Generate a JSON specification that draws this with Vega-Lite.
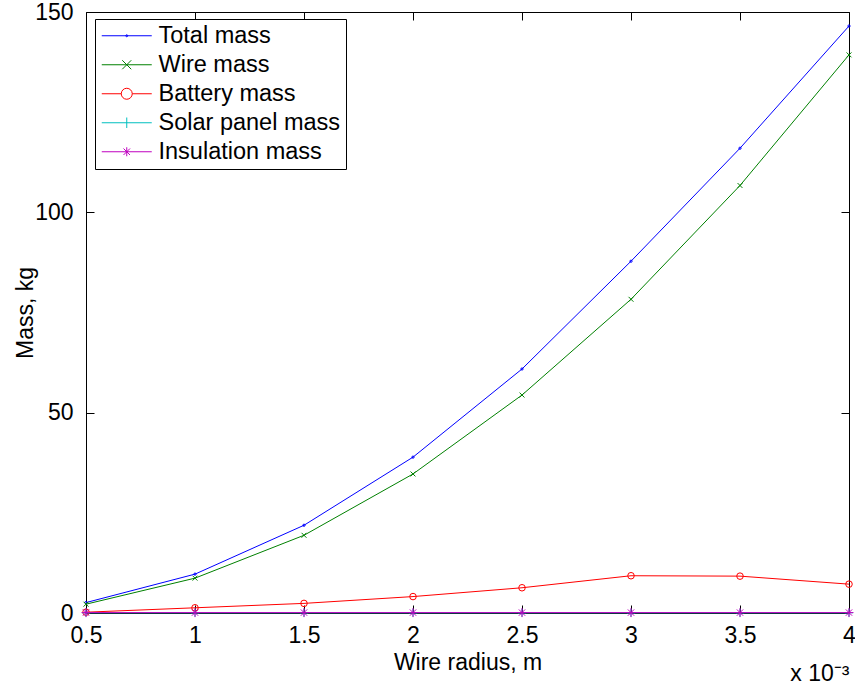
{
  "$schema": "https://vega.github.io/schema/vega-lite/v6.json",
  "width": 763,
  "height": 601,
  "autosize": "none",
  "padding": {"left": 86, "top": 12, "right": 6, "bottom": 73},
  "background": "white",
  "config": {
    "font": "Liberation Sans",
    "view": {"stroke": "black", "strokeWidth": 1},
    "axis": {"grid": false, "labelFont": "Liberation Sans", "titleFont": "Liberation Sans", "labelFontSize": 23, "titleFontSize": 23, "labelColor": "black", "titleColor": "black", "titleFontWeight": "normal", "tickColor": "black", "tickWidth": 1, "domain": false},
    "legend": {"orient": "none", "legendX": 9, "legendY": 7, "strokeColor": "black", "fillColor": "white", "padding": 5, "labelFontSize": 23.5, "labelFont": "Liberation Sans", "labelColor": "black", "labelLimit": 0, "symbolSize": 100, "symbolOffset": 15, "labelOffset": 20, "rowPadding": 4, "symbolStrokeWidth": 1}
  },
  "data": {
    "values": [
      {"r": 0.5, "series": "Total mass", "mass": 2.6},
      {"r": 1.0, "series": "Total mass", "mass": 9.7},
      {"r": 1.5, "series": "Total mass", "mass": 21.9},
      {"r": 2.0, "series": "Total mass", "mass": 38.9},
      {"r": 2.5, "series": "Total mass", "mass": 60.9},
      {"r": 3.0, "series": "Total mass", "mass": 87.8},
      {"r": 3.5, "series": "Total mass", "mass": 116.0},
      {"r": 4.0, "series": "Total mass", "mass": 146.5},
      {"r": 0.5, "series": "Wire mass", "mass": 2.2},
      {"r": 1.0, "series": "Wire mass", "mass": 8.7},
      {"r": 1.5, "series": "Wire mass", "mass": 19.4},
      {"r": 2.0, "series": "Wire mass", "mass": 34.7},
      {"r": 2.5, "series": "Wire mass", "mass": 54.4},
      {"r": 3.0, "series": "Wire mass", "mass": 78.3},
      {"r": 3.5, "series": "Wire mass", "mass": 106.7},
      {"r": 4.0, "series": "Wire mass", "mass": 139.3},
      {"r": 0.5, "series": "Battery mass", "mass": 0.2},
      {"r": 1.0, "series": "Battery mass", "mass": 1.3},
      {"r": 1.5, "series": "Battery mass", "mass": 2.4},
      {"r": 2.0, "series": "Battery mass", "mass": 4.1},
      {"r": 2.5, "series": "Battery mass", "mass": 6.3},
      {"r": 3.0, "series": "Battery mass", "mass": 9.3},
      {"r": 3.5, "series": "Battery mass", "mass": 9.2},
      {"r": 4.0, "series": "Battery mass", "mass": 7.2},
      {"r": 0.5, "series": "Solar panel mass", "mass": 0.05},
      {"r": 1.0, "series": "Solar panel mass", "mass": 0.05},
      {"r": 1.5, "series": "Solar panel mass", "mass": 0.05},
      {"r": 2.0, "series": "Solar panel mass", "mass": 0.05},
      {"r": 2.5, "series": "Solar panel mass", "mass": 0.05},
      {"r": 3.0, "series": "Solar panel mass", "mass": 0.05},
      {"r": 3.5, "series": "Solar panel mass", "mass": 0.05},
      {"r": 4.0, "series": "Solar panel mass", "mass": 0.05},
      {"r": 0.5, "series": "Insulation mass", "mass": 0.1},
      {"r": 1.0, "series": "Insulation mass", "mass": 0.1},
      {"r": 1.5, "series": "Insulation mass", "mass": 0.1},
      {"r": 2.0, "series": "Insulation mass", "mass": 0.1},
      {"r": 2.5, "series": "Insulation mass", "mass": 0.1},
      {"r": 3.0, "series": "Insulation mass", "mass": 0.1},
      {"r": 3.5, "series": "Insulation mass", "mass": 0.1},
      {"r": 4.0, "series": "Insulation mass", "mass": 0.1}
    ]
  },
  "layer": [
    {
      "mark": {"type": "line", "strokeWidth": 1, "clip": false},
      "encoding": {
        "x": {"field": "r", "type": "quantitative", "scale": {"domain": [0.5, 4], "nice": false, "zero": false}, "axis": {"orient": "bottom", "title": "Wire radius, m", "values": [0.5, 1, 1.5, 2, 2.5, 3, 3.5, 4], "format": "~g", "offset": -8, "tickSize": 8, "labelPadding": 11, "titlePadding": 4, "labelFlush": false, "labelOverlap": false}},
        "y": {"field": "mass", "type": "quantitative", "scale": {"domain": [0, 150], "nice": false}, "axis": {"orient": "left", "title": "Mass, kg", "values": [0, 50, 100, 150], "format": "d", "offset": -8, "tickSize": 8, "labelPadding": 13, "titleX": -57, "labelFlush": false, "labelOverlap": false}},
        "color": {
          "field": "series", "type": "nominal", "legend": null,
          "scale": {"domain": ["Total mass", "Wire mass", "Battery mass", "Solar panel mass", "Insulation mass"], "range": ["#0000FF", "#008000", "#FF0000", "#00BFBF", "#BF00BF"]}
        }
      }
    },
    {
      "mark": {"type": "point", "filled": false, "strokeWidth": 1, "opacity": 1, "clip": false},
      "encoding": {
        "x": {"field": "r", "type": "quantitative", "axis": null},
        "y": {"field": "mass", "type": "quantitative", "axis": null},
        "color": {"field": "series", "type": "nominal", "legend": null, "scale": {"domain": ["Total mass", "Wire mass", "Battery mass", "Solar panel mass", "Insulation mass"], "range": ["#0000FF", "#008000", "#FF0000", "#00BFBF", "#BF00BF"]}},
        "shape": {"field": "series", "type": "nominal", "legend": null, "scale": {"domain": ["Total mass", "Wire mass", "Battery mass", "Solar panel mass", "Insulation mass"], "range": ["circle", "M-1,-1L1,1M-1,1L1,-1", "circle", "M0,-1V1M-1,0H1", "M0,-1V1M-1,0H1M-0.7,-0.7L0.7,0.7M-0.7,0.7L0.7,-0.7"]}},
        "size": {"field": "series", "type": "nominal", "legend": null, "scale": {"domain": ["Total mass", "Wire mass", "Battery mass", "Solar panel mass", "Insulation mass"], "range": [5, 81, 130, 110, 81]}}
      }
    },
    {
      "transform": [{"filter": "false"}],
      "mark": {"type": "point", "filled": false, "strokeWidth": 1, "opacity": 1},
      "encoding": {
        "x": {"field": "r", "type": "quantitative", "axis": {"orient": "bottom", "title": "x 10⁻³", "labels": false, "ticks": false, "domain": false, "titleX": 763, "titleY": 67, "titleAlign": "right", "titleBaseline": "alphabetic", "titleAnchor": "end"}},
        "y": {"field": "mass", "type": "quantitative", "axis": null},
        "color": {"field": "series", "type": "nominal", "legend": {"title": null}, "scale": {"domain": ["Total mass", "Wire mass", "Battery mass", "Solar panel mass", "Insulation mass"], "range": ["#0000FF", "#008000", "#FF0000", "#00BFBF", "#BF00BF"]}},
        "shape": {"field": "series", "type": "nominal", "legend": {"title": null}, "scale": {"domain": ["Total mass", "Wire mass", "Battery mass", "Solar panel mass", "Insulation mass"], "range": ["M-5,0H5M-0.2,0A0.2,0.2 0 1,1 0.2,0A0.2,0.2 0 1,1 -0.2,0", "M-5,0H5M-0.9,-0.9L0.9,0.9M-0.9,0.9L0.9,-0.9", "M-5,0H-1.1M1.1,0H5M-1.1,0A1.1,1.1 0 1,1 1.1,0A1.1,1.1 0 1,1 -1.1,0", "M-5,0H5M0,-1.05V1.05", "M-5,0H5M0,-0.9V0.9M-0.65,-0.65L0.65,0.65M-0.65,0.65L0.65,-0.65"]}}
      }
    },
    {
      "mark": {"type": "point", "opacity": 0},
      "encoding": {
        "x": {"field": "r", "type": "quantitative", "axis": {"orient": "top", "title": null, "labels": false, "values": [0.5, 1, 1.5, 2, 2.5, 3, 3.5, 4], "offset": -8, "tickSize": 8}},
        "y": {"field": "mass", "type": "quantitative", "axis": {"orient": "right", "title": null, "labels": false, "values": [0, 50, 100, 150], "offset": -8, "tickSize": 8}}
      }
    }
  ],
  "resolve": {"axis": {"x": "independent", "y": "independent"}, "scale": {"shape": "independent", "color": "independent"}}
}
